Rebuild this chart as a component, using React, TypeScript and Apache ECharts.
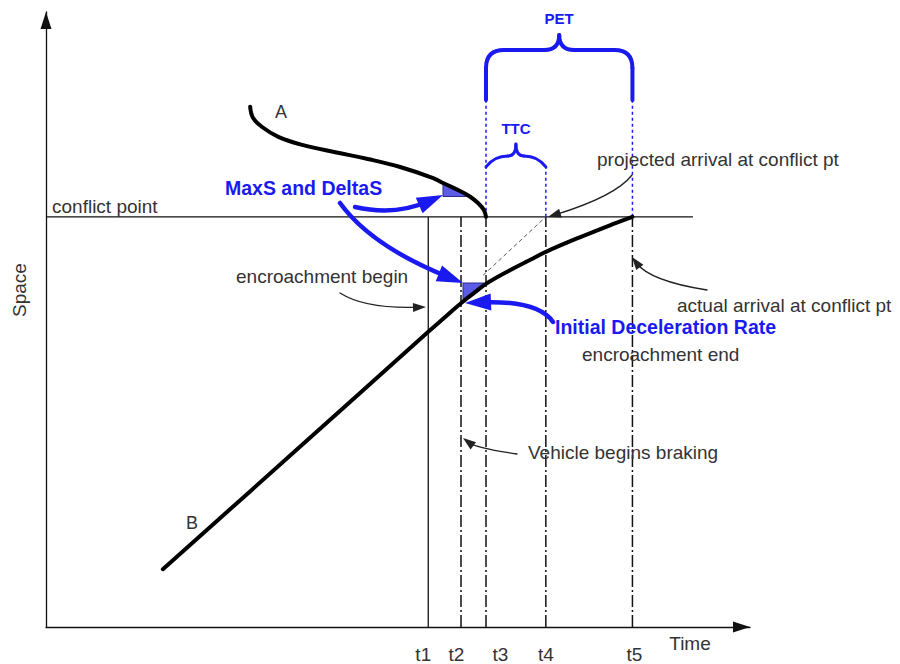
import React, { useEffect, useRef } from "react";
import * as echarts from "echarts";

// ---- data (time / space units of the diagram) ----
const timeLabels = ["t1", "t2", "t3", "t4", "t5"];
const timeValues = [54.3, 58.95, 62.5, 71.0, 83.3];
const conflictSpace = 66.7;
const conflictLineEnd = 91.9;
const petTop = 85.7;
const ttcTop = 74.8;
const vehicleA = [
  [29.0, 84.6], [29.4, 82.8], [30.7, 81.3], [33.0, 79.7], [36.4, 78.4],
  [41.1, 77.2], [45.7, 76.1], [50.3, 74.8], [55.0, 73.0], [56.4, 72.2],
  [58.8, 70.9], [60.2, 70.0], [61.4, 68.9], [62.2, 67.8], [62.5, 66.7],
];
const vehicleB = [
  [16.6, 9.4], [35.0, 28.2], [54.3, 48.0], [56.7, 50.4], [58.9, 52.6],
  [60.9, 54.4], [62.5, 55.8], [65.9, 58.0], [68.8, 59.7], [71.0, 61.0],
  [75.9, 63.4], [80.5, 65.5], [83.3, 66.7],
];
const projectedPath = [[62.1, 57.2], [71.0, 66.7]];

const FONT = "'Liberation Sans', Arial, Helvetica, sans-serif";
const BLUE = "#1a1af0";
const INK = "#111";
const GREY = "#333";

function lineSeries(data: number[][], lineStyle: any, z: number) {
  return {
    type: "line",
    data,
    symbol: "none",
    silent: true,
    smooth: false,
    lineStyle,
    z,
  };
}

function buildOption() {
  const series: any[] = [];
  // conflict point line
  series.push(lineSeries([[0, conflictSpace], [conflictLineEnd, conflictSpace]], { color: INK, width: 1.3 }, 2));
  // vertical time lines
  timeValues.forEach((t, i) => {
    series.push(
      lineSeries([[t, 0], [t, conflictSpace]], {
        color: INK,
        width: i === 0 ? 1.3 : 1.5,
        type: i === 0 ? "solid" : [12, 3, 2, 3],
      }, 2)
    );
  });
  // blue dotted extensions
  [[timeValues[2], petTop], [timeValues[3], ttcTop], [timeValues[4], petTop]].forEach(([t, top]) => {
    series.push(lineSeries([[t, conflictSpace], [t, top]], { color: BLUE, width: 1.5, type: [3, 3] }, 3));
  });
  // projected dashed path
  series.push(lineSeries(projectedPath, { color: "#555", width: 1, type: [4, 3] }, 3));
  // vehicle trajectories
  series.push({ ...lineSeries(vehicleA, { color: "#000", width: 4, cap: "round" }, 5), smooth: 0.4 });
  series.push({ ...lineSeries(vehicleB, { color: "#000", width: 4, cap: "round" }, 5), smooth: 0.4 });

  const richPad: Record<string, any> = {};
  const pads = [[0, 10, 0, 0], [0, 9, 0, 0], [0, 0, 0, 29], [0, 0, 0, 0], [0, 0, 0, 4]];
  pads.forEach((p, i) => {
    richPad["l" + i] = { padding: p, fontSize: 19, fontFamily: FONT, color: GREY };
  });

  return {
    animation: false,
    backgroundColor: "#fff",
    grid: { left: 46, right: 150, top: 12, bottom: 37, containLabel: false, outerBoundsMode: "none" },
    xAxis: {
      type: "value",
      min: 0,
      max: 100,
      axisLine: {
        show: true,
        onZero: false,
        symbol: ["none", "triangle"],
        symbolSize: [11, 17],
        symbolOffset: [0, -8.5],
        lineStyle: { color: INK, width: 1.3 },
      },
      axisTick: { show: false },
      splitLine: { show: false },
      axisLabel: {
        show: true,
        customValues: timeValues,
        margin: 18,
        fontSize: 19,
        fontFamily: FONT,
        color: GREY,
        formatter: (v: number) => {
          const i = timeValues.findIndex((x) => Math.abs(x - v) < 1e-6);
          return i < 0 ? "" : `{l${i}|${timeLabels[i]}}`;
        },
        rich: richPad,
      },
    },
    yAxis: {
      type: "value",
      min: 0,
      max: 100,
      axisLine: {
        show: true,
        onZero: false,
        symbol: ["none", "triangle"],
        symbolSize: [11, 17],
        symbolOffset: [0, -8.5],
        lineStyle: { color: INK, width: 1.3 },
      },
      axisTick: { show: false },
      splitLine: { show: false },
      axisLabel: { show: false },
    },
    series,
  };
}

function buildGraphics(px: (t: number, s: number) => number[]) {
  const els: any[] = [];
  const seg = (x1: number, y1: number, x2: number, y2: number, stroke: string, lw: number) => ({
    type: "line",
    shape: { x1, y1, x2, y2 },
    style: { stroke, lineWidth: lw, lineCap: "round" },
    silent: true,
    z: 10,
  });
  const quad = (x1: number, y1: number, cx: number, cy: number, x2: number, y2: number, stroke: string, lw: number) => ({
    type: "bezierCurve",
    shape: { x1, y1, cpx1: cx, cpy1: cy, x2, y2 },
    style: { stroke, lineWidth: lw, fill: "none", lineCap: "round" },
    silent: true,
    z: 10,
  });
  const arrow = (
    sx: number, sy: number, cx: number, cy: number, tx: number, ty: number,
    stroke: string, lw: number, hl: number, hw: number
  ) => {
    const dx = tx - cx;
    const dy = ty - cy;
    const len = Math.hypot(dx, dy);
    const ux = dx / len;
    const uy = dy / len;
    const bx = tx - ux * hl;
    const by = ty - uy * hl;
    const ex = tx - ux * hl * 0.6;
    const ey = ty - uy * hl * 0.6;
    els.push(quad(sx, sy, cx, cy, ex, ey, stroke, lw));
    els.push({
      type: "polygon",
      shape: { points: [[tx, ty], [bx - (uy * hw) / 2, by + (ux * hw) / 2], [bx + (uy * hw) / 2, by - (ux * hw) / 2]] },
      style: { fill: stroke },
      silent: true,
      z: 11,
    });
  };
  const text = (s: string, x: number, y: number, o: any = {}) => {
    els.push({
      type: "text",
      x,
      y,
      rotation: o.rotation || 0,
      silent: true,
      z: 12,
      style: {
        text: s,
        fill: o.color || GREY,
        fontSize: o.size || 19,
        fontWeight: o.bold ? "bold" : "normal",
        fontFamily: FONT,
        align: o.align || "left",
        verticalAlign: "middle",
      },
    });
  };

  // PET brace
  {
    const [L, B] = px(timeValues[2], petTop);
    const [R] = px(timeValues[4], petTop);
    const M = (L + R) / 2;
    const H = B - 50;
    const S = B - 65;
    const r = 18;
    const lw = 4;
    els.push(seg(L, B, L, H + r, BLUE, lw));
    els.push(quad(L, H + r, L, H, L + r, H, BLUE, lw));
    els.push(seg(L + r, H, M - 15, H, BLUE, lw));
    els.push(quad(M - 15, H, M, H, M, S, BLUE, lw));
    els.push(quad(M, S, M, H, M + 15, H, BLUE, lw));
    els.push(seg(M + 15, H, R - r, H, BLUE, lw));
    els.push(quad(R - r, H, R, H, R, H + r, BLUE, lw));
    els.push(seg(R, H + r, R, B, BLUE, lw));
  }
  // TTC brace
  {
    const [L, B] = px(timeValues[2], ttcTop);
    const [R] = px(timeValues[3], ttcTop);
    const M = (L + R) / 2;
    const H = B - 11;
    const S = B - 23;
    const lw = 3;
    els.push(quad(L, B, L + 8, H, M - 8, H, BLUE, lw));
    els.push(quad(M - 8, H, M, H, M, S, BLUE, lw));
    els.push(quad(M, S, M, H, M + 8, H, BLUE, lw));
    els.push(quad(M + 8, H, R - 8, H, R, B, BLUE, lw));
  }

  // blue marked areas
  els.push({
    type: "polygon",
    shape: { points: [[443, 183], [452, 186.5], [460, 190.5], [466, 194], [470, 196.5], [443, 196.5]] },
    style: { fill: "#5c5ce6", stroke: "#2a2a8a", lineWidth: 1 },
    silent: true,
    z: 4,
  });
  els.push({
    type: "polygon",
    shape: { points: [[463, 283], [484, 283], [484, 287], [474, 293], [466, 299], [463, 299]] },
    style: { fill: "#5c5ce6", stroke: "#2a2a8a", lineWidth: 1 },
    silent: true,
    z: 4,
  });

  // blue arrows
  arrow(355, 207, 395, 216, 443, 195, BLUE, 4.5, 26, 17);
  arrow(340, 203, 371, 246, 463, 283, BLUE, 4.5, 26, 17);
  arrow(553, 322, 538, 300, 465, 303, BLUE, 4.5, 26, 17);

  // black arrows
  arrow(340, 293, 365, 309, 426, 307, "#222", 1.3, 13, 9);
  arrow(632, 175, 616, 196, 548, 217, "#222", 1.3, 13, 9);
  arrow(707, 290, 650, 281, 632, 257, "#222", 1.3, 13, 9);
  arrow(517, 454, 476, 448, 463, 438, "#222", 1.3, 13, 9);

  // texts
  text("conflict point", 52, 206);
  text("encroachment begin", 236, 276);
  text("MaxS and DeltaS", 225, 188, { bold: true, color: BLUE, size: 19.5 });
  text("A", 281, 112, { align: "center", size: 18 });
  text("B", 192, 523, { align: "center", size: 18 });
  text("TTC", 516, 128, { align: "center", bold: true, color: BLUE, size: 15 });
  text("PET", 559, 18, { align: "center", bold: true, color: BLUE, size: 15 });
  text("projected arrival at conflict pt", 597, 159);
  text("actual arrival at conflict pt", 677, 305);
  text("Initial Deceleration Rate", 555, 327, { bold: true, color: BLUE, size: 19.5 });
  text("encroachment end", 582, 354);
  text("Vehicle begins braking", 528, 452);
  text("Time", 690, 643, { align: "center" });
  text("Space", 19, 290, { align: "center", rotation: Math.PI / 2 });

  return els;
}

export default function App() {
  const ref = useRef<HTMLDivElement>(null);
  useEffect(() => {
    document.body.style.margin = "0";
    const chart = echarts.init(ref.current!, null, { renderer: "svg" });
    chart.setOption(buildOption() as any);
    const px = (t: number, s: number) => chart.convertToPixel({ gridIndex: 0 }, [t, s]) as number[];
    chart.setOption({ graphic: { elements: buildGraphics(px) } } as any);
    return () => chart.dispose();
  }, []);
  return <div ref={ref} style={{ width: 900, height: 664 }} />;
}
